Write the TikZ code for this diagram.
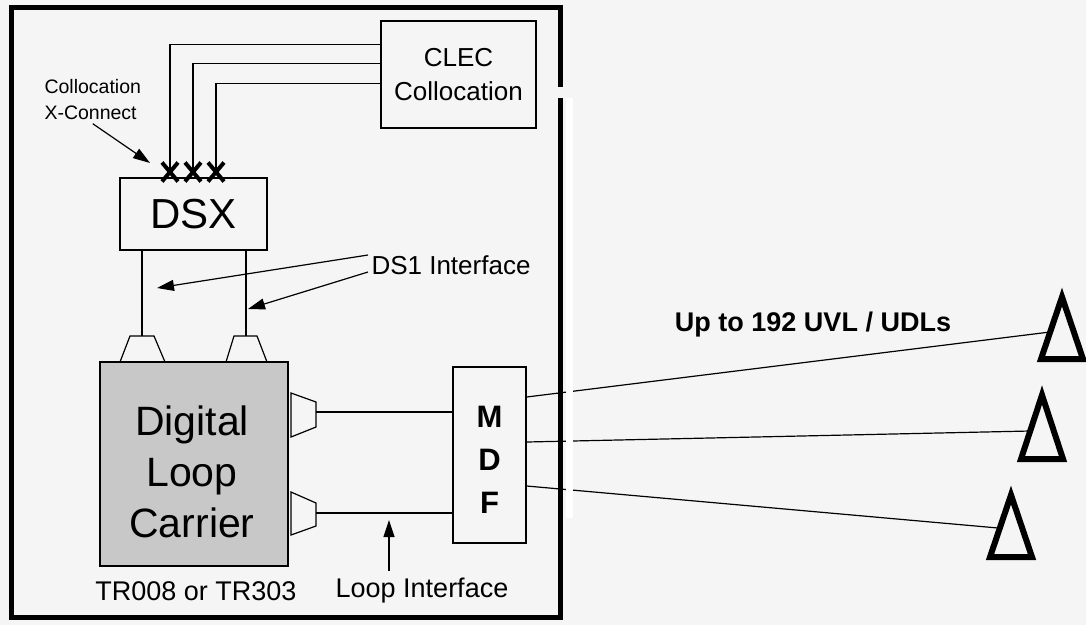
\documentclass[tikz,border=0pt]{standalone}
\usepackage{fontspec}
\setmainfont{Liberation Sans}
\usetikzlibrary{arrows.meta,shapes.misc}
\definecolor{bgc}{HTML}{F5F5F5}
\definecolor{dlcgray}{HTML}{C8C8C8}
\begin{document}
\begin{tikzpicture}[x=1pt,y=-1pt,
  box/.style={draw, line width=1.3pt, inner sep=0pt, rectangle},
  wire/.style={line width=1.2pt},
  arr/.style={line width=1.2pt, -{Triangle[length=17pt,width=11pt]}},
  tri/.style={line width=6pt, line join=miter},
  xmark/.style={cross out, draw, line width=4pt, minimum width=12pt, minimum height=15pt, inner sep=0pt}
]
\fill[bgc] (0,0) rectangle (1086,625);
\useasboundingbox (0,0) rectangle (1086,625);

% boxes
\node[box, minimum width=155pt, minimum height=107pt, align=center,
      font=\fontsize{26}{34}\selectfont] (clec) at (458.5,74.5) {CLEC\\Collocation};
\node[box, minimum width=147pt, minimum height=72pt,
      font=\fontsize{42}{50}\selectfont] (dsx) at (193.5,214) {DSX};
\node[box, fill=dlcgray, minimum width=188pt, minimum height=204pt] (dlc) at (194,464) {};
\node[align=center, font=\fontsize{41}{51}\selectfont] (dlctext) at (192,472) {Digital\\Loop\\Carrier};
\node[box, minimum width=73pt, minimum height=176pt] (mdf) at (489.5,455) {};
\node[align=center, font=\bfseries\fontsize{31}{43}\selectfont] (mdftext) at (489.5,460) {M\\D\\F};

% labels
\node[anchor=west, align=left, font=\fontsize{19.5}{26}\selectfont] (xclab) at (41,100) {Collocation\\X-Connect};
\node[anchor=west, font=\fontsize{26}{30}\selectfont] (ds1lab) at (368,265) {DS1 Interface};
\node[font=\fontsize{27}{30}\selectfont] (trlab) at (196,591) {TR008 or TR303};
\node[font=\fontsize{27}{30}\selectfont] (looplab) at (422,591) {Loop Interface};
\node[font=\bfseries\fontsize{27}{30}\selectfont] (uplab) at (813,325) {Up to 192 UVL / UDLs};

% cross-connect wires
\node[xmark] (x1) at (170,172) {};
\node[xmark] (x2) at (193,172) {};
\node[xmark] (x3) at (216,172) {};
\draw[wire] ([yshift=-24pt]clec.north west) -| (x1.center);
\draw[wire] ([yshift=-43pt]clec.north west) -| (x2.center);
\draw[wire] ([yshift=-63pt]clec.north west) -| (x3.center);

% DS1 links with connectors on top of DLC
\coordinate (ta) at (142,336);
\coordinate (tb) at (246,336);
\draw[wire] (dsx.south -| ta) -- (ta);
\draw[wire] (dsx.south -| tb) -- (tb);
\draw[wire] (120,362) -- (130,336) -- (154,336) -- (165,362);
\draw[wire] (226,362) -- (234,336) -- (257,336) -- (267,362);

% loop connectors on DLC right side
\draw[wire] (291,393) -- (316,402) -- (316,427) -- (291,437) -- cycle;
\draw[wire] (291,492) -- (316,503) -- (316,526) -- (291,535) -- cycle;
\coordinate (pa) at (316,412);
\coordinate (pb) at (316,513);
\draw[wire] (pa) -- (pa -| mdf.west);
\draw[wire] (pb) -- (pb -| mdf.west);

% lines to remote terminals
\coordinate (t1) at (1050,332);
\coordinate (t2) at (1030,431);
\coordinate (t3) at (998,528);
\draw[wire] ([yshift=58pt]mdf.east) -- (t1);
\draw[wire] ([yshift=13pt]mdf.east) -- (t2);
\draw[wire] ([yshift=-31pt]mdf.east) -- (t3);
\draw[tri] (1041,359) -- (1062,297) -- (1083,359) -- cycle;
\draw[tri] (1021,459) -- (1042,395) -- (1063,459) -- cycle;
\draw[tri] (990,557) -- (1011,495) -- (1032,557) -- cycle;

% annotation arrows
\coordinate (xca) at (150,163);
\coordinate (da) at (157,288);
\coordinate (db) at (248,309);
\coordinate (la) at (389,520);
\draw[arr] (xclab.south) -- (xca);
\draw[arr] ([yshift=10pt]ds1lab.west) -- (da);
\draw[arr] ([yshift=-7pt]ds1lab.west) -- (db);
\draw[arr] ([xshift=-33pt,yshift=4pt]looplab.north) -- (la);

% frame
\draw[line width=5pt] (11,7) rectangle (560,617);
\fill[bgc] (556,87) rectangle (566,98);
\fill[white] (566,98) rectangle (573,518);
\end{tikzpicture}
\end{document}
